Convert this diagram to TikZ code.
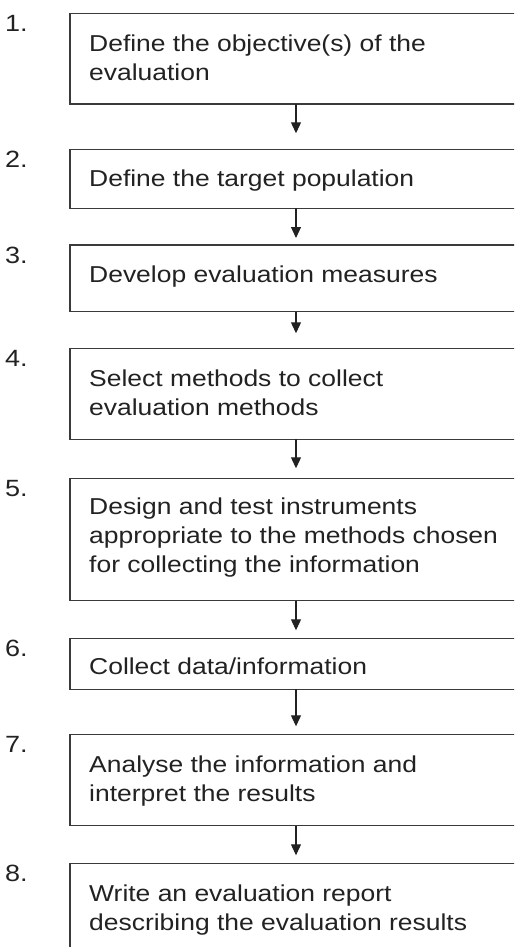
\documentclass[tikz,border=0pt]{standalone}
\usepackage{fontspec}
\setmainfont{Liberation Sans}[FakeStretch=1.15]
\usetikzlibrary{arrows.meta}
\definecolor{ink}{HTML}{222222}
\definecolor{frame}{HTML}{3A3A3A}
\tikzset{
  stepbox/.style={draw=frame, line width=1.1pt, rectangle, anchor=north west, minimum width=470pt, inner sep=0pt, outer sep=0pt},
  steptext/.style={anchor=base west, inner sep=0pt, text=ink, font=\fontsize{23}{29}\selectfont},
  stepnum/.style={anchor=base west, inner sep=0pt, text=ink, font=\fontsize{23.5}{29}\selectfont},
  flow/.style={draw=ink, line width=1.1pt, -{Triangle[width=10pt,length=11pt]}}
}
\newcommand{\lines}[1]{\parbox[t]{420pt}{\raggedright #1}}
\begin{document}
\begin{tikzpicture}[x=1pt,y=-1pt]
\useasboundingbox (0,0) rectangle (514,947);
\clip (0,0) rectangle (514,947);
% boxes
\node[stepbox, minimum height=90.7pt] (b1) at (70,13.3) {};
\node[stepbox, minimum height=59pt]   (b2) at (70,149.3) {};
\node[stepbox, minimum height=66.7pt] (b3) at (70,245) {};
\node[stepbox, minimum height=91pt]   (b4) at (70,348.3) {};
\node[stepbox, minimum height=122.4pt](b5) at (70,478.3) {};
\node[stepbox, minimum height=51pt]   (b6) at (70,638.3) {};
\node[stepbox, minimum height=91.4pt] (b7) at (70,734.3) {};
\node[stepbox, minimum height=110pt]  (b8) at (70,863.3) {};
% numbers
\node[stepnum] (n1) at (5,13.3+18) {1.};
\node[stepnum] (n2) at (5,149.3+18) {2.};
\node[stepnum] (n3) at (5,245+18) {3.};
\node[stepnum] (n4) at (5,348.3+18) {4.};
\node[stepnum] (n5) at (5,478.3+18) {5.};
\node[stepnum] (n6) at (5,638.3+18) {6.};
\node[stepnum] (n7) at (5,734.3+18) {7.};
\node[stepnum] (n8) at (5,863.3+18) {8.};
% texts
\node[steptext] (t1) at (89,13.3+38) {\lines{Define the objective(s) of the\\evaluation}};
\node[steptext] (t2) at (89,149.3+37.5) {\lines{Define the target population}};
\node[steptext] (t3) at (89,245+37.5) {\lines{Develop evaluation measures}};
\node[steptext] (t4) at (89,348.3+38) {\lines{Select methods to collect\\evaluation methods}};
\node[steptext] (t5) at (89,478.3+36) {\lines{Design and test instruments\\appropriate to the methods chosen\\for collecting the information}};
\node[steptext] (t6) at (89,638.3+36) {\lines{Collect data/information}};
\node[steptext] (t7) at (89,734.3+38) {\lines{Analyse the information and\\interpret the results}};
\node[steptext] (t8) at (89,863.3+38) {\lines{Write an evaluation report\\describing the evaluation results}};
% connectors
\draw[flow, shorten >=16pt] (296,0 |- b1.south) -- (296,0 |- b2.north);
\draw[flow, shorten >=7pt]  (296,0 |- b2.south) -- (296,0 |- b3.north);
\draw[flow, shorten >=15pt] (296,0 |- b3.south) -- (296,0 |- b4.north);
\draw[flow, shorten >=10pt] (296,0 |- b4.south) -- (296,0 |- b5.north);
\draw[flow, shorten >=8pt]  (296,0 |- b5.south) -- (296,0 |- b6.north);
\draw[flow, shorten >=8pt]  (296,0 |- b6.south) -- (296,0 |- b7.north);
\draw[flow, shorten >=8pt]  (296,0 |- b7.south) -- (296,0 |- b8.north);
\end{tikzpicture}
\end{document}
